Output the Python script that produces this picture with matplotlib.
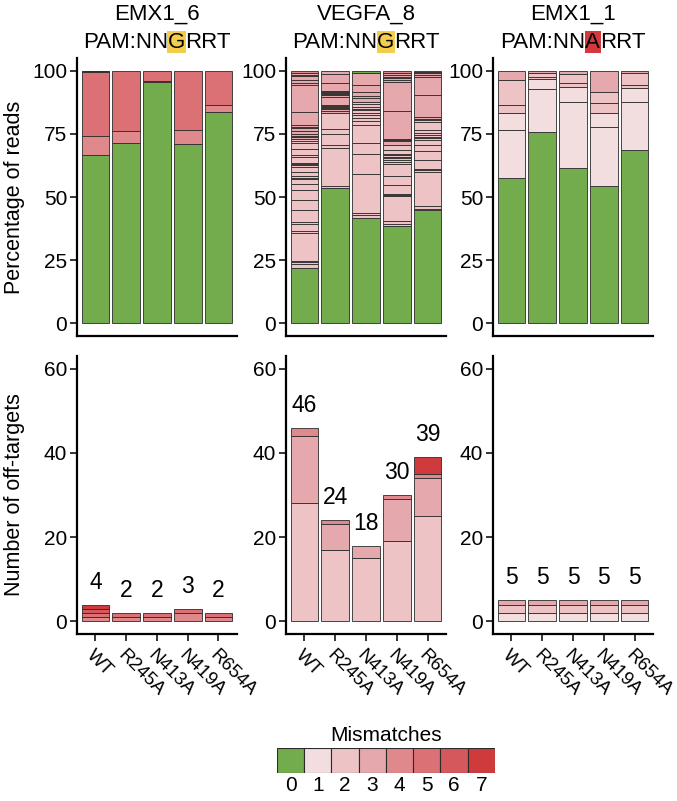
import numpy as np
import matplotlib
matplotlib.use('Agg')
import matplotlib.pyplot as plt

plt.rcParams['font.family'] = ['Liberation Sans', 'DejaVu Sans']

samples = ['WT', 'R245A', 'N413A', 'N419A', 'R654A']
genes = ['EMX1_6', 'VEGFA_8', 'EMX1_1']
pam_pre = 'PAM:NN'
pam_letter = ['G', 'G', 'A']
pam_post = 'RRT'
pam_colors = ['#F3CD4B', '#F3CD4B', '#D2383C']

mm_labels = ['0', '1', '2', '3', '4', '5', '6', '7']
mm_colors = ['#72AC4D', '#F3DEDF', '#EDC3C5', '#E5A8AC',
             '#E0898D', '#DB7175', '#D4585C', '#CF3B3C']

# top panels: cumulative top (% of reads) of each stacked segment + its mismatch class
emx16_tops = [[66.5, 74.0, 99.5, 99.8, 100],
              [71.5, 76.3, 100],
              [95.4, 96.0, 100],
              [70.8, 76.6, 100],
              [83.8, 86.3, 100]]
emx16_mm = [[0, 4, 5, 6, 7], [0, 4, 5], [0, 4, 5], [0, 4, 5], [0, 4, 5]]

vegfa_tops = [
    [22.0, 23.4, 24.3, 24.8, 35.8, 36.6, 39.4, 40.0, 44.7, 48.9, 52.6, 55.0, 57.0, 57.6,
     58.2, 59.9, 61.9, 62.5, 63.0, 63.5, 65.9, 66.5, 69.2, 71.4, 72.3, 73.1, 73.7, 74.2,
     75.1, 76.2, 77.3, 77.8, 78.4, 83.7, 94.4, 95.1, 96.4, 98.0, 98.4, 99.2, 100],
    [53.6, 54.2, 69.6, 70.5, 74.9, 77.1, 83.3, 84.2, 84.7, 85.2, 85.7, 86.2, 86.6, 89.7,
     90.2, 90.6, 91.0, 91.4, 91.8, 95.0, 98.7, 100],
    [41.8, 42.7, 43.7, 59.3, 67.2, 71.2, 78.4, 80.0, 81.1, 82.4, 83.4, 84.4, 85.0, 85.7,
     86.8, 87.7, 89.2, 89.8, 91.4, 94.3, 98.9, 100],
    [38.4, 39.4, 40.5, 50.3, 50.7, 51.3, 54.6, 58.2, 63.0, 64.0, 64.6, 65.3, 65.9, 66.6,
     67.2, 68.5, 70.5, 72.0, 72.5, 73.1, 84.1, 95.6, 96.3, 97.0, 97.7, 98.3, 99.2, 100],
    [44.7, 45.4, 46.3, 59.9, 60.6, 61.2, 64.6, 68.3, 70.5, 72.5, 73.2, 73.9, 74.5, 75.2,
     76.5, 79.6, 80.4, 81.0, 81.7, 90.3, 97.6, 98.3, 98.9, 99.5, 100]]
vegfa_mm = [
    [0] + [2] * 25 + [3] * 14 + [4],
    [0] + [2] * 6 + [3] * 15,
    [0] + [2] * 15 + [3] * 5,
    [0] + [2] * 16 + [3] * 10 + [4],
    [0] + [2] * 17 + [3] * 6 + [4]]

emx11_tops = [[57.7, 76.7, 83.1, 86.4, 96.3, 100],
              [75.9, 92.9, 96.6, 97.6, 98.9, 100],
              [61.6, 87.7, 93.7, 95.2, 98.7, 100],
              [54.2, 77.8, 83.1, 87.4, 91.7, 100],
              [68.8, 87.7, 93.0, 94.3, 98.9, 100]]
emx11_mm = [[0, 1, 1, 2, 2, 3]] * 5

# bottom panels: number of off-targets per mismatch class
emx16_cnt_mm = [[4, 5, 6, 7], [4, 5], [4, 5], [4, 5], [4, 5]]
emx16_cnt = [[1, 1, 1, 1], [1, 1], [1, 1], [2, 1], [1, 1]]
vegfa_cnt_mm = [[2, 3, 4], [2, 3, 4], [2, 3], [2, 3, 4], [2, 3, 4, 7]]
vegfa_cnt = [[28, 16, 2], [17, 6, 1], [15, 3], [19, 10, 1], [25, 9, 1, 4]]
emx11_cnt_mm = [[1, 2, 3]] * 5
emx11_cnt = [[2, 2, 1]] * 5

top_tops = [emx16_tops, vegfa_tops, emx11_tops]
top_mm = [emx16_mm, vegfa_mm, emx11_mm]
bot_cnt = [emx16_cnt, vegfa_cnt, emx11_cnt]
bot_mm = [emx16_cnt_mm, vegfa_cnt_mm, emx11_cnt_mm]

EDGE = '#2b2b2b'


def style(ax):
    for s in ['top', 'right']:
        ax.spines[s].set_visible(False)
    for s in ['left', 'bottom']:
        ax.spines[s].set_linewidth(1.6)
    ax.tick_params(axis='y', length=5, width=1.1, labelsize=15, pad=2, colors='black')
    ax.set_xlim(-0.6, 4.6)


def stack(ax, i, heights, mms):
    heights = np.asarray(heights, dtype=float)
    bottoms = np.concatenate([[0], np.cumsum(heights)[:-1]])
    ax.bar(np.full(len(heights), i), heights, bottom=bottoms, width=0.9,
           color=[mm_colors[m] for m in mms], edgecolor=EDGE, linewidth=0.6)


fig = plt.figure(figsize=(6.77, 8.01), dpi=100)
lefts = [0.1137, 0.4225, 0.7282]
w = 0.2363

for g in range(3):
    ax = fig.add_axes([lefts[g], 0.5805, w, 0.347])
    for i in range(5):
        tops = np.asarray(top_tops[g][i])
        stack(ax, i, np.diff(np.concatenate([[0], tops])), top_mm[g][i])
    style(ax)
    ax.set_ylim(-5, 105)
    ax.set_yticks([0, 25, 50, 75, 100])
    ax.set_xticks([])

    bx = fig.add_axes([lefts[g], 0.2085, w, 0.347])
    for i in range(5):
        stack(bx, i, bot_cnt[g][i], bot_mm[g][i])
        total = sum(bot_cnt[g][i])
        bx.text(i, total + 5.3, str(total), ha='center', va='center', fontsize=16.5)
    style(bx)
    bx.set_ylim(-3, 63)
    bx.set_yticks([0, 20, 40, 60])
    bx.set_xticks(range(5))
    bx.set_xticklabels(samples, rotation=-45, ha='left', va='top',
                       rotation_mode='anchor', fontsize=13.5)
    bx.tick_params(axis='x', length=5, width=1.1, pad=4)

# titles with highlighted PAM base
renderer = fig.canvas.get_renderer()
for g in range(3):
    xc = lefts[g] + w / 2
    fig.text(xc, 0.9825, genes[g], ha='center', va='center', fontsize=16)
    parts = [fig.text(0, 0.9405, s, fontsize=16, va='baseline')
             for s in (pam_pre, pam_letter[g], pam_post)]
    widths = [p.get_window_extent(renderer).width / fig.bbox.width for p in parts]
    x0 = xc - sum(widths) / 2
    parts[0].set_x(x0)
    parts[1].set_x(x0 + widths[0])
    parts[2].set_x(x0 + widths[0] + widths[1])
    parts[1].set_bbox(dict(facecolor=pam_colors[g], edgecolor='none', pad=0.5))

fig.text(0.021, 0.754, 'Percentage of reads', rotation=90, ha='center', va='center', fontsize=15.5)
fig.text(0.021, 0.382, 'Number of off-targets', rotation=90, ha='center', va='center', fontsize=15.5)

# legend
lx = fig.add_axes([0.409, 0.035, 0.322, 0.0312])
lx.bar(range(8), 1, width=1, color=mm_colors, edgecolor=EDGE, linewidth=0.8)
lx.set_xlim(-0.5, 7.5)
lx.set_ylim(0, 1)
lx.set_yticks([])
lx.set_xticks(range(8))
lx.set_xticklabels(mm_labels, fontsize=15)
lx.tick_params(axis='x', length=0, pad=2)
for s in lx.spines.values():
    s.set_visible(False)
lx.set_title('Mismatches', fontsize=15, pad=5)

fig.savefig('out.png', dpi=100)
